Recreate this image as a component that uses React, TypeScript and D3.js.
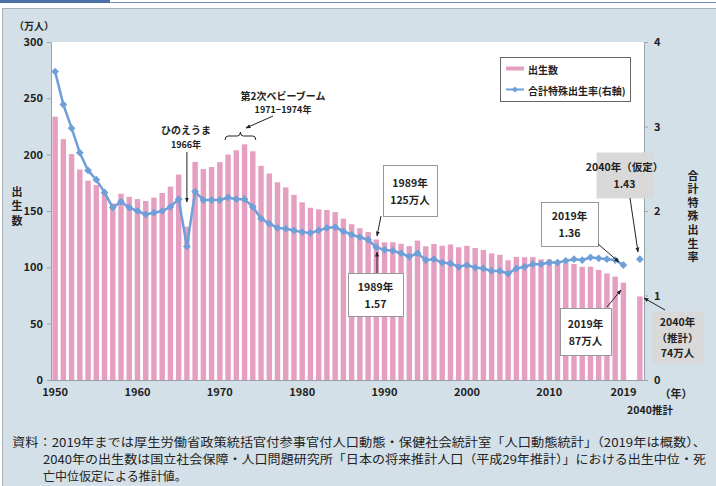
import React, { useEffect, useRef } from 'react';
import * as d3 from 'd3';

// 出生数（万人）1950-2019, 2040推計
const years = d3.range(1950, 2020);
const births = [
  233.7, 213.8, 200.5, 186.8, 177.0, 173.1, 166.5, 156.7, 165.3, 162.6,
  160.6, 158.9, 161.9, 166.0, 171.7, 182.4, 136.1, 193.6, 187.2, 189.0,
  193.4, 200.1, 203.9, 209.2, 203.0, 190.1, 183.3, 175.5, 170.9, 164.3,
  157.7, 152.9, 151.5, 150.9, 149.0, 143.2, 138.3, 134.7, 131.4, 124.7,
  122.2, 122.3, 120.9, 118.8, 123.8, 118.7, 120.7, 119.2, 120.3, 117.8,
  119.1, 117.1, 115.4, 112.4, 111.1, 106.3, 109.3, 109.0, 109.1, 107.0,
  107.1, 105.1, 103.7, 103.0, 100.4, 100.6, 97.7, 94.6, 91.8, 86.5,
];
// 合計特殊出生率
const tfr = [
  3.65, 3.26, 2.98, 2.69, 2.48, 2.37, 2.22, 2.04, 2.11, 2.04,
  2.0, 1.96, 1.98, 2.0, 2.05, 2.14, 1.58, 2.23, 2.13, 2.13,
  2.13, 2.16, 2.14, 2.14, 2.05, 1.91, 1.85, 1.8, 1.79, 1.77,
  1.75, 1.74, 1.77, 1.8, 1.81, 1.76, 1.72, 1.69, 1.66, 1.57,
  1.54, 1.53, 1.5, 1.46, 1.5, 1.42, 1.43, 1.39, 1.38, 1.34,
  1.36, 1.33, 1.32, 1.29, 1.29, 1.26, 1.32, 1.34, 1.37, 1.37,
  1.39, 1.39, 1.41, 1.43, 1.42, 1.45, 1.44, 1.43, 1.42, 1.36,
];
const births2040 = 74.2;
const tfr2040 = 1.43;

const leftTicks = [0, 50, 100, 150, 200, 250, 300];
const rightTicks = [0, 1, 2, 3, 4];
const xTickLabels = ['1950', '1960', '1970', '1980', '1990', '2000', '2010', '2019'];

const footnote = [
  '資料：2019年までは厚生労働省政策統括官付参事官付人口動態・保健社会統計室「人口動態統計」（2019年は概数）、',
  '2040年の出生数は国立社会保障・人口問題研究所「日本の将来推計人口（平成29年推計）」における出生中位・死',
  '亡中位仮定による推計値。',
];

const PINK = '#e59fc1';
const BLUE = '#6f9fd8';
const FONT = '"Noto Sans CJK JP", "Noto Sans", sans-serif';

const App = () => {
  const ref = useRef<SVGSVGElement>(null);

  useEffect(() => {
    document.body.style.margin = '0';
    const svg = d3.select(ref.current);
    svg.selectAll('*').remove();

    const W = 716;
    const left = 51, right = 644, top = 42, bottom = 380;

    const defs = svg.append('defs');
    defs.append('marker')
      .attr('id', 'arr')
      .attr('viewBox', '0 0 10 10')
      .attr('refX', 9).attr('refY', 5)
      .attr('markerWidth', 5).attr('markerHeight', 5)
      .attr('orient', 'auto')
      .append('path').attr('d', 'M0,1 L10,5 L0,9 Z').attr('fill', '#222');

    // header + panel
    svg.append('rect').attr('x', 0).attr('y', 0).attr('width', W).attr('height', 486).attr('fill', '#fff');
    svg.append('rect').attr('x', 0).attr('y', 0).attr('width', 110).attr('height', 3).attr('fill', '#4a72a6');
    svg.append('line').attr('x1', 110).attr('x2', W).attr('y1', 2.5).attr('y2', 2.5).attr('stroke', '#6f8fb8').attr('stroke-width', 1);
    svg.append('rect').attr('x', 2.5).attr('y', 8.5).attr('width', W).attr('height', 486)
      .attr('fill', '#d4e0e8').attr('stroke', '#a9b1b8');

    svg.append('rect').attr('x', left).attr('y', top).attr('width', right - left).attr('height', bottom - top).attr('fill', '#fff');

    const cats = [...years.map(String), 'gap', '2040'];
    const x = d3.scaleBand<string>().domain(cats).range([left, right]).paddingInner(0.34).paddingOuter(0.17);
    const yL = d3.scaleLinear().domain([0, 300]).range([bottom, top]);
    const yR = d3.scaleLinear().domain([0, 4]).range([bottom, top]);
    const cx = (k: string) => (x(k) as number) + x.bandwidth() / 2;

    const barData = [...years.map((y, i) => ({ k: String(y), v: births[i] })), { k: '2040', v: births2040 }];
    svg.append('g').selectAll('rect').data(barData).enter().append('rect')
      .attr('x', (d) => x(d.k) as number)
      .attr('y', (d) => yL(d.v))
      .attr('width', x.bandwidth())
      .attr('height', (d) => bottom - yL(d.v))
      .attr('fill', PINK);

    // axes
    const axisCol = '#9aa3aa';
    const gL = svg.append('g').attr('transform', `translate(${left},0)`)
      .call(d3.axisLeft(yL).tickValues(leftTicks).tickSize(4).tickPadding(4));
    const gR = svg.append('g').attr('transform', `translate(${right},0)`)
      .call(d3.axisRight(yR).tickValues(rightTicks).tickSize(4).tickPadding(6).tickFormat(d3.format('d')));
    const gB = svg.append('g').attr('transform', `translate(0,${bottom})`)
      .call(d3.axisBottom(x).tickValues(xTickLabels).tickSize(0).tickPadding(8));
    [gL, gR, gB].forEach((g) => {
      g.selectAll('path,line').attr('stroke', axisCol);
      g.selectAll('text').attr('font-family', FONT).attr('font-size', 11).attr('font-weight', 'bold').attr('fill', '#222');
    });
    gB.select('.domain').attr('d', `M${left},0.5H${right}`);

    const txt = (t: string, px: number, py: number, anchor = 'middle', size = 11, weight = 'bold') =>
      svg.append('text').attr('x', px).attr('y', py).attr('text-anchor', anchor)
        .attr('dominant-baseline', 'central').attr('font-family', FONT)
        .attr('font-size', size).attr('font-weight', weight).attr('fill', '#222').text(t);

    const vtxt = (t: string, px: number, py: number, gap: number) =>
      svg.append('text').attr('x', px).attr('y', py).attr('text-anchor', 'start')
        .attr('writing-mode', 'vertical-rl').attr('letter-spacing', gap)
        .attr('font-family', FONT).attr('font-size', 11).attr('font-weight', 'bold').attr('fill', '#222').text(t);

    txt('（万人）', 34, 25.5, 'middle', 10);
    vtxt('出生数', 17, 186, 3.5);
    vtxt('合計特殊出生率', 693, 170, 2.6);
    txt('（年）', 676, 393, 'middle', 11);
    txt('2040推計', 650, 409, 'middle', 10.5);

    // TFR line
    const lineData = years.map((y, i) => ({ k: String(y), v: tfr[i] }));
    svg.append('path').datum(lineData)
      .attr('fill', 'none').attr('stroke', BLUE).attr('stroke-width', 2.5)
      .attr('d', d3.line<{ k: string; v: number }>().x((d) => cx(d.k)).y((d) => yR(d.v)));
    const sym = d3.symbol().type(d3.symbolSquare).size(30);
    svg.append('g').selectAll('path').data([...lineData, { k: '2040', v: tfr2040 }]).enter().append('path')
      .attr('d', sym as any)
      .attr('transform', (d) => `translate(${cx(d.k)},${yR(d.v)}) rotate(45)`)
      .attr('fill', BLUE);

    // legend
    svg.append('rect').attr('x', 500.5).attr('y', 57.5).attr('width', 130).attr('height', 44)
      .attr('fill', '#fff').attr('stroke', '#666');
    svg.append('line').attr('x1', 506).attr('x2', 524).attr('y1', 68.5).attr('y2', 68.5).attr('stroke', PINK).attr('stroke-width', 4);
    txt('出生数', 528, 69, 'start', 10);
    svg.append('line').attr('x1', 506).attr('x2', 524).attr('y1', 89.5).attr('y2', 89.5).attr('stroke', BLUE).attr('stroke-width', 2);
    svg.append('path').attr('d', d3.symbol().type(d3.symbolSquare).size(18)() as string)
      .attr('transform', 'translate(515,89.5) rotate(45)').attr('fill', BLUE);
    txt('合計特殊出生率(右軸)', 528, 90, 'start', 10);

    const seg = (x1: number, y1: number, x2: number, y2: number, arrow = true) => {
      const l = svg.append('line').attr('x1', x1).attr('y1', y1).attr('x2', x2).attr('y2', y2)
        .attr('stroke', '#222').attr('stroke-width', 1);
      if (arrow) l.attr('marker-end', 'url(#arr)');
    };
    const box = (bx: number, by: number, bw: number, bh: number, lines: string[], fill = '#fff', stroke = '#999', lh = 17) => {
      svg.append('rect').attr('x', bx + 0.5).attr('y', by + 0.5).attr('width', bw).attr('height', bh)
        .attr('fill', fill).attr('stroke', stroke);
      const y0 = by + bh / 2 - ((lines.length - 1) * lh) / 2;
      lines.forEach((t, i) => txt(t, bx + bw / 2, y0 + i * lh, 'middle', 10.5));
    };

    // 第2次ベビーブーム
    txt('第2次ベビーブーム', 283, 95, 'middle', 10);
    txt('1971−1974年', 283, 109, 'middle', 9);
    seg(273, 116, 246, 128);
    const bx0 = cx('1971') - 3, bx1 = cx('1974') + 3, bm = (bx0 + bx1) / 2;
    svg.append('path')
      .attr('d', `M${bx0},140 Q${bx0},136 ${bx0 + 3},136 L${bm - 3},136 Q${bm},136 ${bm},132 Q${bm},136 ${bm + 3},136 L${bx1 - 3},136 Q${bx1},136 ${bx1},140`)
      .attr('fill', 'none').attr('stroke', '#222').attr('stroke-width', 1);

    // ひのえうま
    txt('ひのえうま', 186, 129, 'middle', 10);
    txt('1966年', 186, 144, 'middle', 9);
    seg(cx('1966'), 152, cx('1966'), 202);

    box(383, 165, 54, 51, ['1989年', '125万人']);
    seg(381, 216, 377, 236);
    box(348, 273, 55, 43, ['1989年', '1.57']);
    seg(377, 273, 377, 252);
    box(541, 202, 57, 44, ['2019年', '1.36']);
    seg(598, 244, 619, 262);
    box(596, 152, 57, 46, ['2040年（仮定）', '1.43'], '#d9d9d9', 'none');
    seg(630, 198, 638, 252);
    box(560, 308, 51, 47, ['2019年', '87万人']);
    seg(607, 307, 621, 290);
    box(652, 311, 51, 52, ['2040年', '（推計）', '74万人'], '#d9d9d9', 'none', 15.5);
    seg(665, 310, 644, 298);

    // footnote
    const fn = [
      { t: footnote[0], x: 12, y: 441, len: 694 },
      { t: footnote[1], x: 43, y: 458, len: 663 },
      { t: footnote[2], x: 43, y: 475, len: 0 },
    ];
    fn.forEach((f) => {
      const el = txt(f.t, f.x, f.y, 'start', 12, 'normal');
      if (f.len) el.attr('textLength', f.len).attr('lengthAdjust', 'spacingAndGlyphs');
    });
  }, []);

  return <svg ref={ref} width={716} height={486} style={{ display: 'block' }} />;
};

export default App;
